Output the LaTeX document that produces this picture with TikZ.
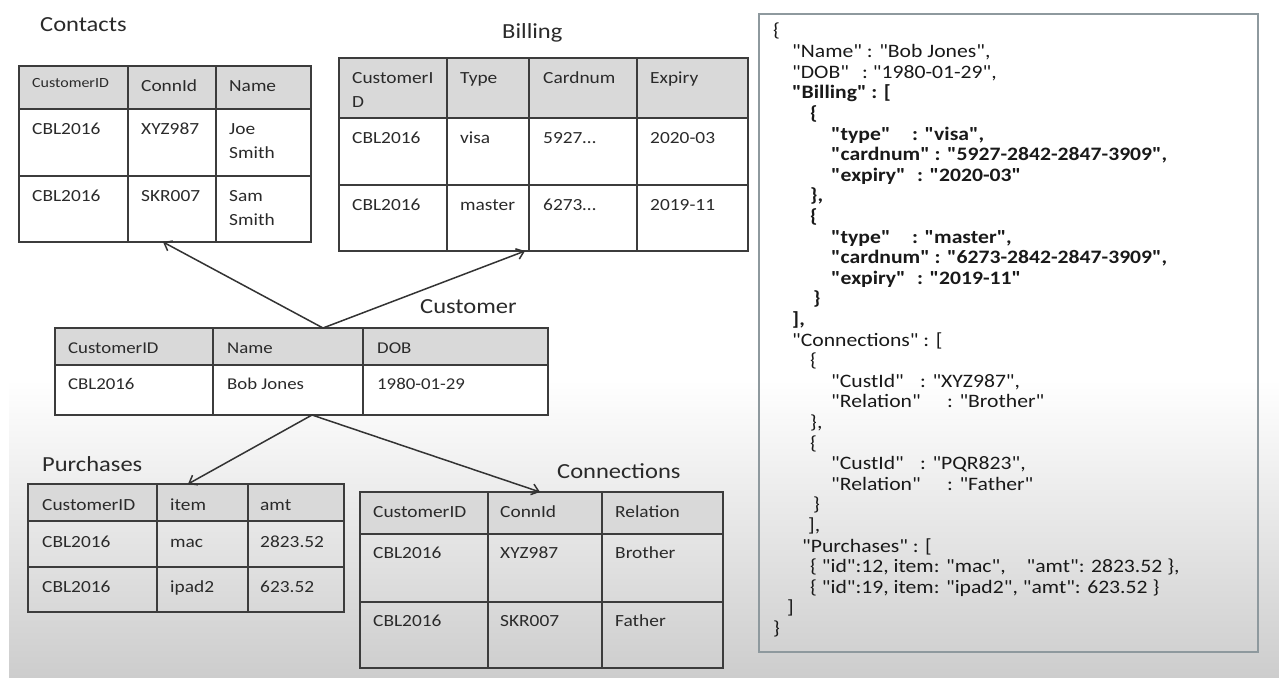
\documentclass[tikz,border=0pt]{standalone}
\usepackage{fontspec}
\setmainfont{Carlito}[FakeStretch=1.14, Ligatures=TeXOff]
\usetikzlibrary{arrows.meta,calc}
\definecolor{txt}{HTML}{2A2A2A}
\definecolor{gridc}{HTML}{3C3C3C}
\definecolor{hdrc}{HTML}{D9D9D9}
\definecolor{boxc}{HTML}{8E999E}
\definecolor{bgbot}{HTML}{CDCDCD}
\tikzset{
  frame/.style={draw=gridc, line width=1.8pt, rectangle, inner sep=0, outer sep=0, anchor=north west},
  gridl/.style={draw=gridc, line width=1.8pt},
  hdr/.style={fill=hdrc},
  cell/.style={anchor=base west, inner sep=0, font=\fontsize{17}{20}\selectfont, text=txt},
  smallcell/.style={cell, font=\fontsize{14}{17}\selectfont},
  custcell/.style={cell, font=\fontsize{16.5}{20}\selectfont},
  title/.style={anchor=base west, inner sep=0, font=\fontsize{21.5}{24}\selectfont, text=txt},
  json/.style={anchor=base west, inner sep=0, font=\fontsize{19}{20}\selectfont, text=black!90},
  conn/.style={draw=black!80, line width=1.5pt, -{Straight Barb[length=7pt,width=11pt,line width=1.5pt]}},
}
\begin{document}
\begin{tikzpicture}[x=1pt,y=-1pt]
\useasboundingbox (0,0) rectangle (1279,677);
\fill[white] (0,0) rectangle (1279,677);
\shade[top color=white, bottom color=bgbot] (9,380) rectangle (1279,677);

% ---------- Contacts ----------
\node[title] (tcontacts) at (40,32) {Contacts};
\fill[hdr] (19,66) rectangle (311,109);
\node[frame, minimum width=292pt, minimum height=176pt] (contacts) at (19,66) {};
\draw[gridl] (19,109) -- (311,109) (19,176) -- (311,176)
  (128,66) -- (128,242) (216,66) -- (216,242);
\node[smallcell] (ca1) at (32,88) {CustomerID};
\node[cell] (ca2) at (141,92) {ConnId};
\node[cell] (ca3) at (229,92) {Name};
\node[cell] (cb1) at (32,134) {CBL2016};
\node[cell] (cb2) at (141,134) {XYZ987};
\node[cell] (cb3) at (229,134) {Joe};
\node[cell] (cb3b) at (229,158) {Smith};
\node[cell] (cc1) at (32,201) {CBL2016};
\node[cell] (cc2) at (141,201) {SKR007};
\node[cell] (cc3) at (229,201) {Sam};
\node[cell] (cc3b) at (229,225) {Smith};

% ---------- Billing ----------
\node[title] (tbilling) at (502,39) {Billing};
\fill[hdr] (339,58) rectangle (748,118);
\node[frame, minimum width=409pt, minimum height=193pt] (billing) at (339,58) {};
\draw[gridl] (339,118) -- (748,118) (339,185) -- (748,185)
  (447,58) -- (447,251) (529,58) -- (529,251) (637,58) -- (637,251);
\node[cell] (ba1) at (352,83) {CustomerI};
\node[cell] (ba1b) at (352,107) {D};
\node[cell] (ba2) at (460,83) {Type};
\node[cell] (ba3) at (543,83) {Cardnum};
\node[cell] (ba4) at (650,83) {Expiry};
\node[cell] (bb1) at (352,143) {CBL2016};
\node[cell] (bb2) at (460,143) {visa};
\node[cell] (bb3) at (543,143) {5927…};
\node[cell] (bb4) at (650,143) {2020-03};
\node[cell] (bc1) at (352,210) {CBL2016};
\node[cell] (bc2) at (460,210) {master};
\node[cell] (bc3) at (543,210) {6273…};
\node[cell] (bc4) at (650,210) {2019-11};

% ---------- Customer ----------
\node[title] (tcustomer) at (420,313) {Customer};
\fill[white] (55,365) rectangle (548,415);
\fill[hdr] (55,328) rectangle (548,365);
\node[frame, minimum width=493pt, minimum height=87pt] (customer) at (55,328) {};
\draw[gridl] (55,365) -- (548,365) (213,328) -- (213,415) (363,328) -- (363,415);
\node[custcell] (ua1) at (68,353) {CustomerID};
\node[custcell] (ua2) at (227,353) {Name};
\node[custcell] (ua3) at (377,353) {DOB};
\node[custcell] (ub1) at (68,389) {CBL2016};
\node[custcell] (ub2) at (227,389) {Bob Jones};
\node[custcell] (ub3) at (377,389) {1980-01-29};

% ---------- Purchases ----------
\node[title] (tpurch) at (42,471) {Purchases};
\fill[hdr] (28,484) rectangle (344,521);
\node[frame, minimum width=316pt, minimum height=128pt] (purch) at (28,484) {};
\draw[gridl] (28,521) -- (344,521) (28,567) -- (344,567)
  (157,484) -- (157,612) (248,484) -- (248,612);
\node[cell] (pa1) at (42,510) {CustomerID};
\node[cell] (pa2) at (170,510) {item};
\node[cell] (pa3) at (260,510) {amt};
\node[cell] (pb1) at (42,547) {CBL2016};
\node[cell] (pb2) at (170,547) {mac};
\node[cell] (pb3) at (260,547) {2823.52};
\node[cell] (pc1) at (42,592) {CBL2016};
\node[cell] (pc2) at (170,592) {ipad2};
\node[cell] (pc3) at (260,592) {623.52};

% ---------- Connections ----------
\node[title] (tconn) at (557,478) {Connections};
\fill[hdr] (360,492) rectangle (723,534);
\node[frame, minimum width=363pt, minimum height=176pt] (connt) at (360,492) {};
\draw[gridl] (360,534) -- (723,534) (360,602) -- (723,602)
  (488,492) -- (488,668) (602,492) -- (602,668);
\node[cell] (na1) at (373,517) {CustomerID};
\node[cell] (na2) at (500,517) {ConnId};
\node[cell] (na3) at (615,517) {Relation};
\node[cell] (nb1) at (373,558) {CBL2016};
\node[cell] (nb2) at (500,558) {XYZ987};
\node[cell] (nb3) at (615,558) {Brother};
\node[cell] (nc1) at (373,626) {CBL2016};
\node[cell] (nc2) at (500,626) {SKR007};
\node[cell] (nc3) at (615,626) {Father};

% ---------- Connectors ----------
\coordinate (ctop) at ($(customer.north west)+(268,0)$);
\coordinate (cbot) at ($(customer.south west)+(257,0)$);
\draw[conn] (ctop) -- ($(contacts.south west)+(144,0)$);
\draw[conn] (ctop) -- ($(billing.south west)+(186,0)$);
\draw[conn] (cbot) -- ($(purch.north west)+(160,0)$);
\draw[conn] (cbot) -- ($(connt.north west)+(180,0)$);

% ---------- JSON box ----------
\node[draw=boxc, line width=1.8pt, rectangle, inner sep=0, outer sep=0, anchor=north west,
  minimum width=499pt, minimum height=638pt] (json) at (759,14) {};
\node[json] (j1)  at (773,37.0)  {\{};
\node[json] (j2)  at (792,57.6)  {"Name" : "Bob Jones",};
\node[json] (j3)  at (792,78.2)  {\makebox[70pt][l]{"DOB"}:~"1980-01-29",};
\node[json] (j4)  at (792,98.8)  {\textbf{"Billing" : [}};
\node[json] (j5)  at (810,119.4) {\textbf{\{}};
\node[json] (j6)  at (831,140.0) {\textbf{\makebox[81pt][l]{"type"}: "visa",}};
\node[json] (j7)  at (831,160.6) {\textbf{"cardnum" : "5927-2842-2847-3909",}};
\node[json] (j8)  at (831,181.2) {\textbf{\makebox[86pt][l]{"expiry"}: "2020-03"}};
\node[json] (j9)  at (810,201.8) {\textbf{\},}};
\node[json] (j10) at (810,222.4) {\textbf{\{}};
\node[json] (j11) at (831,243.0) {\textbf{\makebox[81pt][l]{"type"}: "master",}};
\node[json] (j12) at (831,263.6) {\textbf{"cardnum" : "6273-2842-2847-3909",}};
\node[json] (j13) at (831,284.2) {\textbf{\makebox[86pt][l]{"expiry"}: "2019-11"}};
\node[json] (j14) at (813,304.8) {\textbf{\}}};
\node[json] (j15) at (792,325.4) {\textbf{],}};
\node[json] (j16) at (792,346.0) {"Connections" : [};
\node[json] (j17) at (810,366.6) {\{};
\node[json] (j18) at (831,387.2) {\makebox[89pt][l]{"CustId"}: "XYZ987",};
\node[json] (j19) at (831,407.8) {\makebox[116pt][l]{"Relation"}: "Brother"};
\node[json] (j20) at (810,428.4) {\},};
\node[json] (j21) at (810,449.0) {\{};
\node[json] (j22) at (831,469.6) {\makebox[89pt][l]{"CustId"}: "PQR823",};
\node[json] (j23) at (831,490.2) {\makebox[116pt][l]{"Relation"}: "Father"};
\node[json] (j24) at (813,510.8) {\}};
\node[json] (j25) at (808,531.4) {],};
\node[json] (j26) at (802,552.0) {"Purchases" : [};
\node[json] (j27) at (810,572.6) {\{ "id":12, item: "mac",\hspace{16pt} "amt": 2823.52 \},};
\node[json] (j28) at (810,593.2) {\{ "id":19, item: "ipad2", "amt": 623.52 \}};
\node[json] (j29) at (787,613.8) {]};
\node[json] (j30) at (773,634.4) {\}};
\end{tikzpicture}
\end{document}
